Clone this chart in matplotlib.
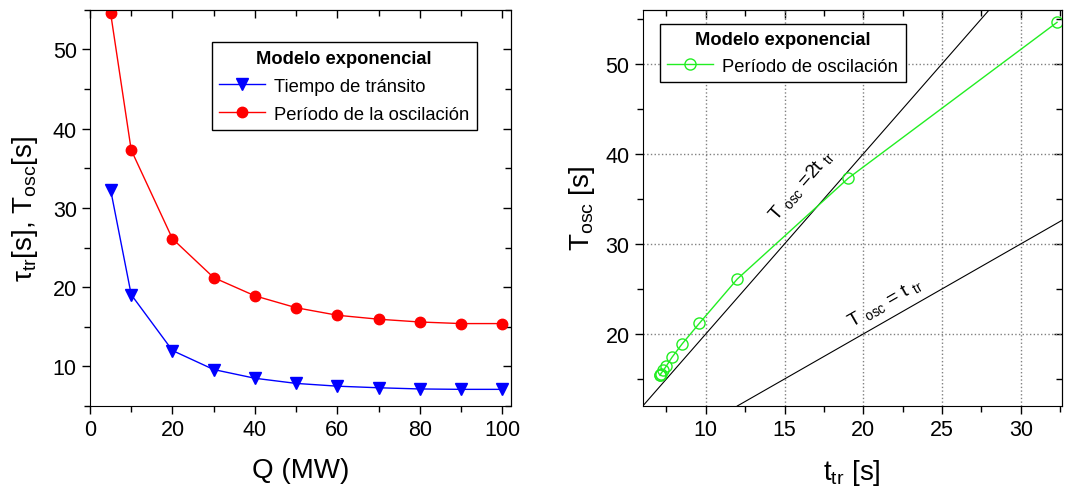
import numpy as np
import matplotlib
matplotlib.use("Agg")
import matplotlib.pyplot as plt
from matplotlib.ticker import MultipleLocator

plt.rcParams['font.family'] = ['Liberation Sans', 'DejaVu Sans']
plt.rcParams['mathtext.fontset'] = 'custom'
plt.rcParams['mathtext.rm'] = 'Liberation Sans'
plt.rcParams['mathtext.it'] = 'Liberation Sans:italic'
plt.rcParams['mathtext.bf'] = 'Liberation Sans:bold'

# data
Q = [5, 10, 20, 30, 40, 50, 60, 70, 80, 90, 100]
t_tr = [32.3, 19.05, 12.0, 9.6, 8.5, 7.85, 7.5, 7.3, 7.15, 7.1, 7.1]
T_osc = [54.6, 37.3, 26.1, 21.2, 18.9, 17.4, 16.45, 15.95, 15.6, 15.4, 15.4]

fig = plt.figure(figsize=(10.66, 4.89), dpi=100)
ax1 = fig.add_axes([0.0844, 0.1677, 0.3946, 0.8103])
ax2 = fig.add_axes([0.603, 0.1677, 0.393, 0.8103])


def mirror_ticks(ax, xmaj, xmin, ymaj, ymin):
    ax.xaxis.set_major_locator(MultipleLocator(xmaj))
    ax.xaxis.set_minor_locator(MultipleLocator(xmin))
    ax.yaxis.set_major_locator(MultipleLocator(ymaj))
    ax.yaxis.set_minor_locator(MultipleLocator(ymin))
    ax.tick_params(which='major', direction='out', length=6, width=1, labelsize=15.5)
    ax.tick_params(which='minor', direction='out', length=4, width=1)
    top = ax.secondary_xaxis('top')
    top.xaxis.set_major_locator(MultipleLocator(xmaj))
    top.xaxis.set_minor_locator(MultipleLocator(xmin))
    top.tick_params(which='both', direction='in', labeltop=False)
    top.tick_params(which='major', length=6, width=1)
    top.tick_params(which='minor', length=4, width=1)
    right = ax.secondary_yaxis('right')
    right.yaxis.set_major_locator(MultipleLocator(ymaj))
    right.yaxis.set_minor_locator(MultipleLocator(ymin))
    right.tick_params(which='both', direction='in', labelright=False)
    right.tick_params(which='major', length=6, width=1)
    right.tick_params(which='minor', length=4, width=1)


###################################
#          left panel             #
###################################
ax1.plot(Q, t_tr, color='#0000ff', lw=1, marker='v', ms=9,
         label='Tiempo de tránsito')
ax1.plot(Q, T_osc, color='#ff0000', lw=1, marker='o', ms=7.5,
         label='Período de la oscilación')
ax1.set_xlim(0, 102)
ax1.set_ylim(5, 55)
mirror_ticks(ax1, 20, 10, 10, 5)
ax1.set_xlabel('Q (MW)', fontsize=20, labelpad=12)
ax1.set_ylabel(r'τ$_\mathrm{tr}$[s], T$_\mathrm{osc}$[s]', fontsize=20, labelpad=9)
leg = ax1.legend(loc='upper right', bbox_to_anchor=(0.919, 0.918),
                 borderaxespad=0, fontsize=13.2, title='Modelo exponencial',
                 title_fontproperties={'weight': 'bold', 'size': 13.2},
                 fancybox=False, edgecolor='black', framealpha=1,
                 handlelength=2.5, labelspacing=0.6, handletextpad=0.5)
leg.get_frame().set_linewidth(1)

###################################
#          right panel            #
###################################
ax2.grid(True, which='major', color='gray', ls=':', lw=1)
ax2.axline((0, 0), slope=2, color='black', lw=0.8)
ax2.axline((0, 0), slope=1, color='black', lw=0.8)
ax2.plot(t_tr, T_osc, color='#22ee22', lw=1, marker='o', ms=8, mfc='none',
         label='Período de oscilación')
ax2.set_xlim(6, 32.6)
ax2.set_ylim(12, 56)
mirror_ticks(ax2, 5, 2.5, 10, 5)
ax2.set_xlabel(r't$_\mathrm{tr}$ [s]', fontsize=20, labelpad=12)
ax2.set_ylabel(r'T$_\mathrm{osc}$ [s]', fontsize=20, labelpad=6)
leg2 = ax2.legend(loc='upper left', bbox_to_anchor=(0.041, 0.964),
                  borderaxespad=0, fontsize=13.2, title='Modelo exponencial',
                  title_fontproperties={'weight': 'bold', 'size': 13.2},
                  fancybox=False, edgecolor='black', framealpha=1,
                  handlelength=2.5, handletextpad=0.5)
leg2.get_frame().set_linewidth(1)

# rotated labels on the reference lines
for slope, pos, txt in [(2, (16.1, 36.6), r'T $_\mathrm{osc}$ =2t $_\mathrm{tr}$'),
                        (1, (21.4, 23.6), r'T $_\mathrm{osc}$ = t $_\mathrm{tr}$')]:
    ang = ax2.transData.transform_angles(np.array([np.degrees(np.arctan(slope))]),
                                         np.array([pos]))[0]
    ax2.text(pos[0], pos[1], txt, rotation=ang, rotation_mode='anchor',
             ha='center', va='center', fontsize=14)

fig.savefig('out.png', dpi=100)
